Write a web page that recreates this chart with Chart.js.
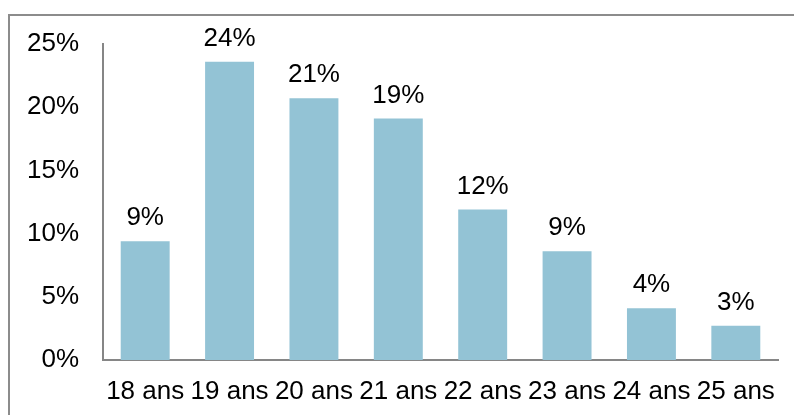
<!DOCTYPE html>
<html>
<head>
<meta charset="utf-8">
<script src="https://cdn.jsdelivr.net/npm/chart.js@4"></script>
<style>
  html, body { margin: 0; padding: 0; background: #fff; }
  #wrap { width: 794px; height: 415px; position: relative; }
</style>
</head>
<body>
<div id="wrap"><canvas id="chart" width="794" height="415"></canvas></div>
<script>
const ages = ["18 ans", "19 ans", "20 ans", "21 ans", "22 ans", "23 ans", "24 ans", "25 ans"];
const shares = [9.4, 23.6, 20.7, 19.1, 11.9, 8.6, 4.1, 2.7];
const yTicks = [0, 5, 10, 15, 20, 25];

const fontFamily = "'Liberation Sans', Arial, sans-serif";

// cadre gris autour du graphique
const framePlugin = {
  id: "frame",
  beforeDraw(chart) {
    const ctx = chart.ctx;
    ctx.save();
    ctx.strokeStyle = "#8c8c8c";
    ctx.lineWidth = 2;
    ctx.strokeRect(9, 15, 820, 440);
    ctx.restore();
  }
};

// étiquettes de valeur au-dessus des barres
const valueLabels = {
  id: "valueLabels",
  afterDatasetsDraw(chart) {
    const ctx = chart.ctx;
    const meta = chart.getDatasetMeta(0);
    ctx.save();
    ctx.font = "26px " + fontFamily;
    ctx.fillStyle = "#000";
    ctx.textAlign = "center";
    ctx.textBaseline = "alphabetic";
    meta.data.forEach((bar, i) => {
      ctx.fillText(Math.round(shares[i]) + "%", bar.x, bar.y - 16);
    });
    ctx.restore();
  }
};

new Chart(document.getElementById("chart"), {
  type: "bar",
  data: {
    labels: ages,
    datasets: [{
      data: shares,
      backgroundColor: "#93c3d5",
      borderWidth: 0,
      categoryPercentage: 1,
      barPercentage: 0.58
    }]
  },
  options: {
    responsive: false,
    animation: false,
    layout: { padding: { top: 44, right: 16, left: 0, bottom: 0 } },
    plugins: {
      legend: { display: false },
      tooltip: { enabled: false }
    },
    scales: {
      x: {
        grid: { display: false, drawTicks: false },
        border: { display: true, color: "#868686", width: 2 },
        ticks: {
          color: "#000",
          font: { family: fontFamily, size: 26 },
          padding: 16,
          maxRotation: 0,
          autoSkip: false
        },
        afterFit(scale) { scale.height = 55; }
      },
      y: {
        min: 0,
        max: 25,
        grid: { display: false, drawTicks: false },
        border: { display: true, color: "#868686", width: 2 },
        afterBuildTicks(scale) { scale.ticks = yTicks.map(v => ({ value: v })); },
        ticks: {
          color: "#000",
          font: { family: fontFamily, size: 26 },
          padding: 24,
          callback: v => v + "%"
        },
        afterFit(scale) { scale.width = 103; }
      }
    }
  },
  plugins: [framePlugin, valueLabels]
});
</script>
</body>
</html>
